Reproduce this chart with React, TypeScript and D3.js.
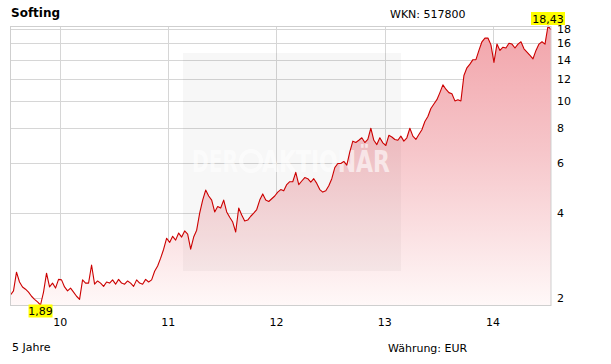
import React from "react";
import * as d3 from "d3";

const title = "Softing";
const wkn = "WKN: 517800";
const periodLabel = "5 Jahre";
const currencyLabel = "Währung: EUR";
const startDate = new Date(2009, 6, 17);
const endDate = new Date(2014, 6, 16);
const yTicks = [2, 4, 6, 8, 10, 12, 14, 16, 18];
const xTickYears = [2010, 2011, 2012, 2013, 2014];

// closing prices (EUR), evenly spaced between startDate and endDate
const values = [
  2.05, 2.12, 2.47, 2.28, 2.19, 2.15, 2.10, 2.03, 1.98, 1.94, 1.89, 2.10, 2.45, 2.19, 2.26, 2.17, 2.33,
  2.32, 2.19, 2.12, 2.17, 2.10, 2.03, 1.98, 2.32, 2.26, 2.26, 2.62, 2.24, 2.30, 2.26, 2.20, 2.28, 2.26,
  2.32, 2.24, 2.33, 2.26, 2.24, 2.30, 2.26, 2.20, 2.32, 2.26, 2.24, 2.33, 2.28, 2.32, 2.49, 2.60, 2.77,
  2.98, 3.26, 3.15, 3.31, 3.21, 3.40, 3.29, 3.46, 3.37, 2.98, 3.29, 3.48, 4.00, 4.45, 4.83, 4.60, 4.45,
  4.04, 4.22, 4.17, 4.45, 4.04, 3.87,
  3.72, 3.43, 4.17, 3.94, 3.75, 3.78, 3.90, 4.00, 4.12, 4.45, 4.68, 4.45, 4.40, 4.50, 4.60, 4.75, 4.85,
  4.80, 5.05, 5.17, 5.17, 5.58, 5.05, 5.20, 5.35, 5.30, 5.15, 5.30, 5.10, 4.85, 4.75, 4.80, 5.00, 5.30,
  5.80, 6.00, 6.00,
  6.10, 5.92, 6.60, 7.20, 7.12, 7.25, 7.40, 7.12, 7.30, 8.00, 7.25, 7.00, 7.40, 7.10, 6.95, 7.55, 7.45,
  7.30, 7.25, 7.50, 7.20, 7.40, 8.00, 7.50, 7.30, 7.60, 7.90, 8.45, 8.80, 9.40, 9.75, 10.1, 10.7, 11.4,
  11.0, 10.7, 10.6, 10.0, 10.1, 10.0, 12.3, 13.1, 13.5, 14.0, 14.0, 15.1, 16.2, 16.7, 16.7, 15.8, 13.7,
  15.9, 15.1, 15.5, 15.4, 16.0, 15.9, 15.4, 15.9, 16.2, 15.3, 14.9, 14.5, 14.1, 15.1, 15.9, 16.2, 15.9,
  18.43, 17.9,
];

const W = 611;
const H = 364;
const L = 10.5;
const R = 551;
const T = 26;
const B = 305;
const FONT = "'DejaVu Sans', Verdana, sans-serif";

const fmt = (v: number) => v.toFixed(2).replace(".", ",");

export default function App() {
  const n = values.length;
  const t0 = startDate.getTime();
  const t1 = endDate.getTime();
  const data = values.map((v, i) => ({ d: new Date(t0 + (i * (t1 - t0)) / (n - 1)), v }));
  const [vmin, vmax] = d3.extent(values) as [number, number];
  const x = d3.scaleTime().domain([startDate, endDate]).range([L, R]);
  const y = d3.scaleLog().domain([vmin, vmax]).range([B, T]);

  const line = d3
    .line<{ d: Date; v: number }>()
    .x((p) => x(p.d))
    .y((p) => y(p.v));
  const area = d3
    .area<{ d: Date; v: number }>()
    .x((p) => x(p.d))
    .y0(B)
    .y1((p) => y(p.v));

  const iMax = values.indexOf(vmax);
  const iMin = values.indexOf(vmin);
  const maxX = x(data[iMax].d);
  const maxY = y(vmax);
  const minX = x(data[iMin].d);
  const minY = y(vmin);

  const px = (v: number) => Math.round(v) + 0.5;

  return (
    <svg width={W} height={H} style={{ position: "absolute", left: 0, top: 0, background: "#fff" }}>
      <defs>
        <linearGradient id="fillg" gradientUnits="userSpaceOnUse" x1="0" y1={T} x2="0" y2={B}>
          <stop offset="0%" stopColor="#f2a4aa" />
          <stop offset="45%" stopColor="#f6c6ca" />
          <stop offset="100%" stopColor="#fff8f8" />
        </linearGradient>
      </defs>
      <rect x={0} y={0} width={W} height={H} fill="#fff" />
      {/* grid */}
      {yTicks.map((t) => (
        <line key={"gy" + t} x1={L} x2={R} y1={px(y(t))} y2={px(y(t))} stroke="#d6d6d6" strokeWidth={1} />
      ))}
      {xTickYears.map((yr) => {
        const xx = px(x(new Date(yr, 0, 1)));
        return <line key={"gx" + yr} x1={xx} x2={xx} y1={T} y2={B} stroke="#d6d6d6" strokeWidth={1} />;
      })}
      {/* area + line */}
      <path d={area(data) || ""} fill="url(#fillg)" />
      {/* watermark */}
      <rect x={183} y={53} width={218} height={218} fill="#000" opacity={0.03} />
      <g fill="#fff" opacity={0.6} fontFamily={FONT} fontWeight="bold" fontSize={30}>
        <text x={192} y={172} textLength={46} lengthAdjust="spacingAndGlyphs">DER</text>
        <circle cx={251} cy={161} r={10} fill="none" stroke="#fff" strokeWidth={4} />
        <text x={262} y={172} textLength={128} lengthAdjust="spacingAndGlyphs">AKTIONÄR</text>
      </g>
      <path d={line(data) || ""} fill="none" stroke="#cc0000" strokeWidth={1.1} strokeLinejoin="round" />
      {/* frame */}
      <rect x={L} y={T + 0.5} width={R - L} height={B - T} fill="none" stroke="#cfcfcf" strokeWidth={1} />
      {/* y labels */}
      {yTicks.map((t) => (
        <text key={"ly" + t} x={557} y={y(t) + 4} fontFamily={FONT} fontSize={11} fill="#000">
          {t}
        </text>
      ))}
      {/* x labels */}
      {xTickYears.map((yr) => (
        <text
          key={"lx" + yr}
          x={x(new Date(yr, 0, 1))}
          y={326}
          textAnchor="middle"
          fontFamily={FONT}
          fontSize={11}
          fill="#000"
        >
          {String(yr).slice(2)}
        </text>
      ))}
      {/* max / min labels */}
      <rect x={maxX - 17} y={maxY - 14} width={34} height={13} fill="#ffff00" />
      <text x={maxX} y={maxY - 3.5} textAnchor="middle" fontFamily={FONT} fontSize={11} fill="#000">
        {fmt(vmax)}
      </text>
      <rect x={minX - 12} y={minY - 0.5} width={24} height={13} fill="#ffff00" />
      <text x={minX} y={minY + 10} textAnchor="middle" fontFamily={FONT} fontSize={11} fill="#000">
        {fmt(vmin)}
      </text>
      {/* header/footer */}
      <text x={11} y={17} fontFamily={FONT} fontWeight="bold" fontSize={12} fill="#000">
        {title}
      </text>
      <text x={390} y={18} fontFamily={FONT} fontSize={11} fill="#000">
        {wkn}
      </text>
      <text x={12} y={351} fontFamily={FONT} fontSize={11} fill="#000">
        {periodLabel}
      </text>
      <text x={388} y={352} fontFamily={FONT} fontSize={11} fill="#000">
        {currencyLabel}
      </text>
    </svg>
  );
}
